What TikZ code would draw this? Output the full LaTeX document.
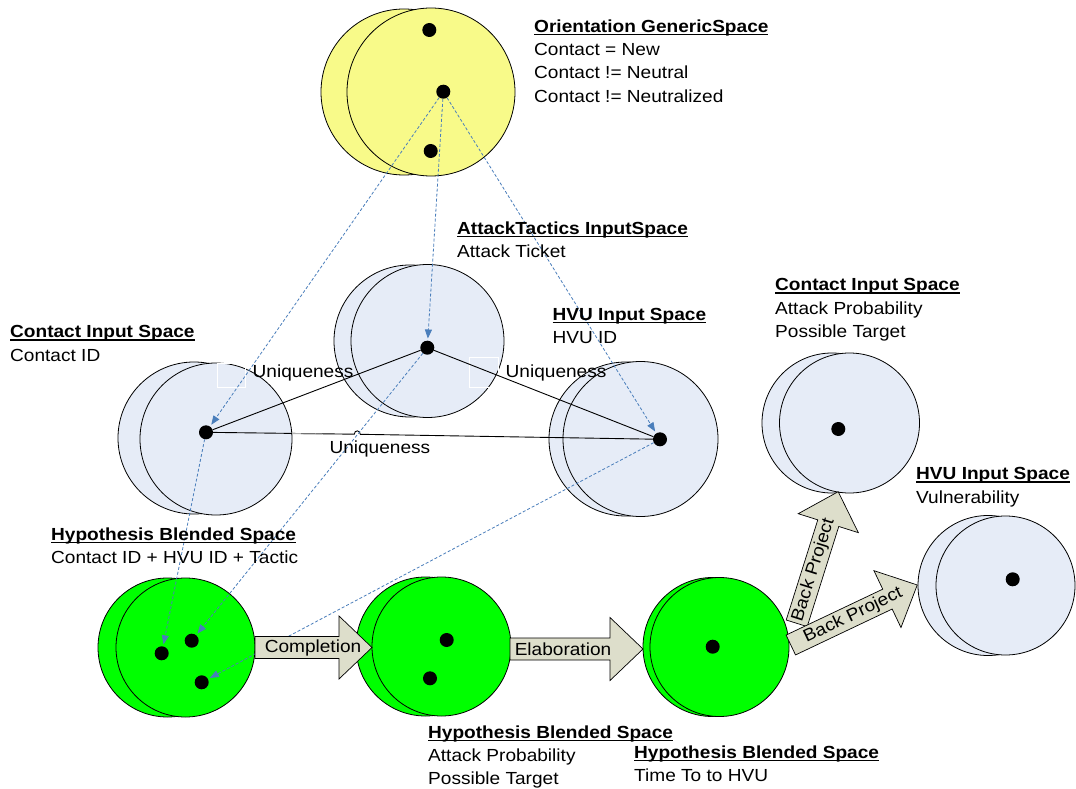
\documentclass[tikz,border=0pt]{standalone}
\usepackage{fontspec}
\setmainfont[FakeStretch=1.09]{Liberation Sans}
\usetikzlibrary{arrows.meta}
\definecolor{bubble}{RGB}{230,236,247}
\definecolor{yel}{RGB}{248,250,137}
\definecolor{grn}{RGB}{0,255,0}
\definecolor{linkc}{RGB}{74,126,187}
\definecolor{arrc}{RGB}{221,222,203}
\newcommand\fs{\fontsize{17.5}{23.3}\selectfont}
\newsavebox\hdbox
\newcommand\hd[1]{\sbox\hdbox{\bfseries #1}\rlap{\rule[-3pt]{\wd\hdbox}{1.5pt}}\usebox\hdbox}
\newcommand\blockarrow[7]{%
  \begin{scope}[shift={(#1,#2)},rotate=#3]
    \draw[barrow] (0,-11) -- ({#4-33},-11) -- ({#4-33},-31.5) -- (#4,0) -- ({#4-33},31.5) -- ({#4-33},11) -- (0,11) -- cycle;
    \node[font=\fs, transform shape, inner sep=0pt] (#7) at (#5,0) {#6};
  \end{scope}}
\tikzset{
  sp/.style={circle, draw=black, line width=0.8pt, inner sep=0pt},
  dot/.style={circle, fill=black, minimum size=14pt, inner sep=0pt},
  linkline/.style={draw=linkc, line width=0.8pt, dash pattern=on 3pt off 2pt, -{Triangle[length=9pt,width=7pt]}, shorten >=2pt},
  uniq/.style={draw=black, line width=0.9pt},
  lbl/.style={anchor=north west, inner sep=0pt, align=left, font=\fs},
  ulbl/.style={anchor=base west, inner sep=0pt, font=\fs},
  barrow/.style={draw=black, line width=0.7pt, fill=arrc},
  ghost/.style={draw=white, line width=0.8pt}
}
\begin{document}
\begin{tikzpicture}[x=1pt,y=-1pt]
\fill[white] (0,0) rectangle (1076,789);
\useasboundingbox (0,0) rectangle (1076,789);
% spaces (back and front circles)
\node[sp, fill=yel, minimum size=166pt] (orB) at (404,92) {};
\node[sp, fill=yel, minimum size=168pt] (orF) at (431,92) {};
\node[sp, fill=bubble, minimum size=152pt] (atB) at (410,341) {};
\node[sp, fill=bubble, minimum size=153pt] (atF) at (427.5,341) {};
\node[sp, fill=bubble, minimum size=152pt] (ciB) at (194,438) {};
\node[sp, fill=bubble, minimum size=152pt] (ciF) at (216,439) {};
\node[sp, fill=bubble, minimum size=154pt] (hvB) at (626,439) {};
\node[sp, fill=bubble, minimum size=155pt] (hvF) at (640.5,439) {};
\node[sp, fill=bubble, minimum size=140pt] (crB) at (832,423) {};
\node[sp, fill=bubble, minimum size=140pt] (crF) at (849.5,423) {};
\node[sp, fill=bubble, minimum size=140pt] (hfB) at (988,585.5) {};
\node[sp, fill=bubble, minimum size=139pt] (hfF) at (1005.5,585.5) {};
\node[sp, fill=grn, minimum size=139pt] (g1B) at (167.5,647.5) {};
\node[sp, fill=grn, minimum size=139pt] (g1F) at (185.5,647.5) {};
\node[sp, fill=grn, minimum size=139pt] (g2B) at (425.5,646.5) {};
\node[sp, fill=grn, minimum size=139pt] (g2F) at (441.5,646.5) {};
\node[sp, fill=grn, minimum size=139pt] (g3B) at (712.5,647) {};
\node[sp, fill=grn, minimum size=139pt] (g3F) at (719.5,647) {};
% faint label boxes
\draw[ghost] (217,363) rectangle (245,387);
\draw[ghost] (469,357) rectangle (498,387);
% dots
\node[dot] (y1) at (429.3,30) {};
\node[dot] (y2) at (443.3,91.7) {};
\node[dot] (y3) at (430.7,151) {};
\node[dot] (at) at (427.3,347.7) {};
\node[dot] (ct) at (206,432.3) {};
\node[dot] (hv) at (660,439.3) {};
\node[dot] (cr) at (838.3,429) {};
\node[dot] (hf) at (1012.7,579.3) {};
\node[dot] (g1a) at (161.7,653.3) {};
\node[dot] (g1b) at (191.7,640.7) {};
\node[dot] (g1c) at (201.7,682.3) {};
\node[dot] (g2a) at (446.7,640) {};
\node[dot] (g2b) at (430,678.3) {};
\node[dot] (g3) at (712.7,646.7) {};
% uniqueness relations
\coordinate (hopL) at (354.3,434.2);
\coordinate (hopR) at (360.3,434.3);
\draw[uniq] (ct) -- (at);
\draw[uniq] (at) -- (hv);
\draw[uniq] (ct) -- (hopL) .. controls +(0,-4.5) and +(0,-4.5) .. (hopR) -- (hv);
\draw[line width=1pt, black!30] (292,433.6) -- (322,434.1);
% projections
\draw[linkline] (y2) -- (ct);
\draw[linkline] (y2) -- (at);
\draw[linkline] (y2) -- (hv);
\draw[linkline] (ct) -- (g1a);
\draw[linkline] (at) -- (g1b);
\draw[linkline] (hv) -- (g1c);
% block arrows
\blockarrow{255}{647.5}{0}{117}{58}{Completion}{compl}
\blockarrow{510}{649}{0}{133}{53}{Elaboration}{elab}
\blockarrow{796.7}{623.3}{72.5}{138}{56}{Back Project}{bp1}
\blockarrow{790.8}{645}{25.4}{140}{69}{Back Project}{bp2}
% relation labels
\node[ulbl] (u1) at (252.5,377.3) {Uniqueness};
\node[ulbl] (u2) at (505.5,377.3) {Uniqueness};
\node[ulbl] (u3) at (329.3,453.3) {Uniqueness};
% space descriptions
\node[lbl] (tA) at (534,19.4) {\hd{Orientation GenericSpace}\\Contact = New\\Contact != Neutral\\Contact != Neutralized};
\node[lbl] (tB) at (457,221.4) {\hd{AttackTactics InputSpace}\\Attack Ticket};
\node[lbl] (tC) at (10,325.4) {\hd{Contact Input Space}\\Contact ID};
\node[lbl] (tD) at (552.3,307.7) {\hd{HVU Input Space}\\HVU ID};
\node[lbl] (tE) at (775,278.4) {\hd{Contact Input Space}\\Attack Probability\\Possible Target};
\node[lbl] (tF) at (916,467.4) {\hd{HVU Input Space}\\Vulnerability};
\node[lbl] (tG) at (51,527.4) {\hd{Hypothesis Blended Space}\\Contact ID + HVU ID + Tactic};
\node[lbl] (tH) at (428,725.4) {\hd{Hypothesis Blended Space}\\Attack Probability\\Possible Target};
\node[lbl] (tI) at (634,745.4) {\hd{Hypothesis Blended Space}\\Time To to HVU};
\end{tikzpicture}
\end{document}
